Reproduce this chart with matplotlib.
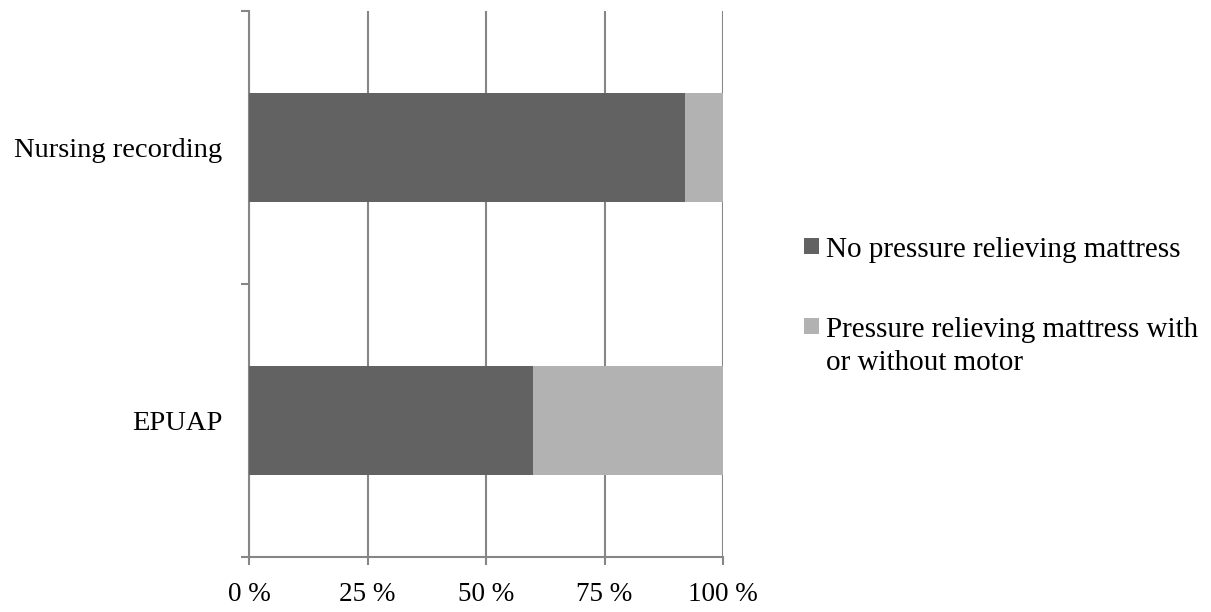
import matplotlib.pyplot as plt
from matplotlib.patches import Rectangle

categories = ["EPUAP", "Nursing recording"]
no_mattress = [60, 92]
with_mattress = [40, 8]
series_labels = ["No pressure relieving mattress",
                 "Pressure relieving mattress with\nor without motor"]
x_ticks = [0, 25, 50, 75, 100]
x_tick_labels = ["0 %", "25 %", "50 %", "75 %", "100 %"]

dark = "#626262"
light = "#b2b2b2"
axis_grey = "#868686"
series_colors = [dark, light]

plt.rcParams["font.family"] = ["Liberation Serif", "DejaVu Serif"]

W, H = 1211, 612
fig = plt.figure(figsize=(W / 100, H / 100), dpi=100)
ax = fig.add_axes([249 / W, 55 / H, 474 / W, 546 / H])

ypos = list(range(len(categories)))
ax.barh(ypos, no_mattress, height=0.4, color=dark, zorder=3)
ax.barh(ypos, with_mattress, left=no_mattress, height=0.4, color=light, zorder=3)

ax.set_xlim(0, 100)
ax.set_ylim(-0.5, len(categories) - 0.5)

# vertical gridlines
ax.set_xticks(x_ticks)
ax.set_xticklabels(x_tick_labels, fontsize=19.5)
ax.grid(axis="x", color=axis_grey, linewidth=1.5, zorder=0)

# category boundaries as major ticks, labels on minor ticks
ax.set_yticks([i - 0.5 for i in range(len(categories) + 1)])
ax.set_yticklabels([])
ax.set_yticks(ypos, minor=True)
ax.set_yticklabels(categories, minor=True, fontsize=20.5)
ax.tick_params(axis="y", which="minor", length=0, pad=19)
ax.tick_params(axis="y", which="major", length=6, width=1.5, color=axis_grey)
ax.tick_params(axis="x", length=6, width=1.5, color=axis_grey, pad=12)

for side in ["top", "right"]:
    ax.spines[side].set_visible(False)
for side in ["left", "bottom"]:
    ax.spines[side].set_color(axis_grey)
    ax.spines[side].set_linewidth(1.5)

# legend: square swatch next to the first line of each label
first_baselines = [257, 337]
line_step = 33
for label, color, base in zip(series_labels, series_colors, first_baselines):
    fig.add_artist(Rectangle((804 / W, (H - base + 3) / H), 15 / W, 16 / H,
                             transform=fig.transFigure, color=color, lw=0))
    # va="baseline" anchors the last line of a multi-line label
    last = base + line_step * label.count("\n")
    fig.text(826 / W, (H - last) / H, label, fontsize=21, va="baseline",
             ha="left", linespacing=1.36)

fig.savefig("out.png", dpi=100)
